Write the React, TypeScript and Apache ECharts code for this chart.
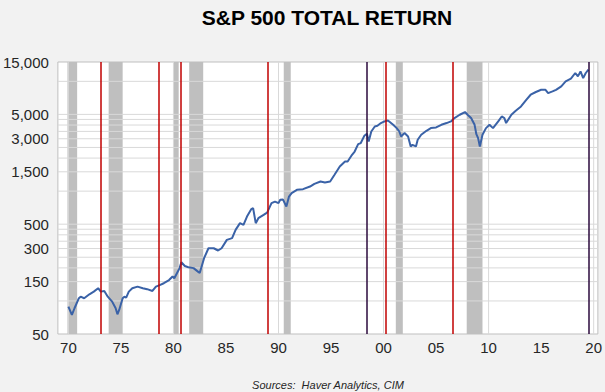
import React, { useEffect, useRef } from "react";
import * as echarts from "echarts";

const dates = [
  "1970-01","1970-05","1970-08","1971-01","1971-03","1971-07","1972-01","1972-06","1972-11","1973-02",
  "1973-06","1973-10","1974-03","1974-07","1974-09","1974-11","1975-03","1975-05","1975-07","1975-10",
  "1976-02","1976-08","1977-02","1977-07","1978-01","1978-05","1978-10","1979-02","1979-08","1979-12",
  "1980-02","1980-05","1980-08","1980-10","1981-02","1981-06","1981-12","1982-05","1982-07","1982-12",
  "1983-05","1983-11","1984-04","1984-08","1985-02","1985-08","1985-12","1986-05","1986-09","1987-01",
  "1987-06","1987-08","1987-11","1988-02","1988-08","1988-12","1989-05","1989-09","1990-01","1990-03",
  "1990-06","1990-10","1991-01","1991-04","1991-10","1992-05","1993-01","1993-06","1994-01","1994-06",
  "1994-12","1995-05","1995-11","1996-05","1996-08","1997-01","1997-04","1997-08","1997-11","1998-03",
  "1998-06","1998-08","1998-11","1999-03","1999-06","1999-10","2000-02","2000-06","2000-12","2001-04",
  "2001-07","2001-09","2002-01","2002-05","2002-08","2002-10","2003-02","2003-04","2003-08","2004-02",
  "2004-07","2005-01","2005-07","2006-01","2006-06","2006-10","2007-04","2007-10","2008-01","2008-05",
  "2008-09","2008-11","2009-01","2009-03","2009-06","2009-10","2010-02","2010-06","2010-12","2011-04",
  "2011-07","2011-09","2012-03","2012-08","2013-02","2013-08","2014-01","2014-07","2015-01","2015-06",
  "2015-09","2016-02","2016-06","2016-12","2017-05","2017-11","2018-04","2018-07","2018-10","2019-01",
  "2019-04","2019-07"
];

const values = [
  88.7, 74.5, 85.8, 105.9, 109.4, 105.9, 115, 121.6, 130.6, 121.6,
  123.3, 109.4, 98.6, 85.8, 75.6, 82.8, 105.9, 109.4, 107, 121.6,
  130.6, 135, 130.6, 128, 123.3, 135, 140, 145, 155, 167,
  161, 179, 199, 225, 208, 203, 199, 185, 180, 245,
  302, 302, 288, 302, 360, 373, 444, 511, 493, 587,
  686, 700, 511, 567, 608, 638, 778, 804, 778, 834,
  841, 724, 893, 959, 1028, 1042, 1101, 1166, 1224, 1197,
  1224, 1409, 1675, 1862, 1862, 2143, 2296, 2679, 2741, 3190,
  3327, 2831, 3492, 3880, 3937, 4168, 4315, 4406, 4018, 3750,
  3492, 3147, 3381, 3147, 2553, 2642, 2553, 2938, 3261, 3546,
  3750, 3800, 4018, 4168, 4315, 4630, 4963, 5250, 4963, 4630,
  4018, 3300, 3041, 2553, 3261, 3750, 4018, 3750, 4315, 4786,
  4630, 4168, 4963, 5396, 5902, 6792, 7551, 7998, 8375, 8375,
  7816, 8091, 8375, 8995, 9977, 10570, 11910, 11090, 12300, 10720,
  11910, 12760
];

const recessions: [string, string][] = [
  ["1969-12", "1970-11"],
  ["1973-11", "1975-03"],
  ["1980-01", "1980-07"],
  ["1981-07", "1982-11"],
  ["1990-07", "1991-03"],
  ["2001-03", "2001-11"],
  ["2007-12", "2009-06"],
];

const redLines = ["1973-02", "1978-08", "1980-09", "1989-01", "2000-04", "2006-08"];
const darkLines = ["1998-06", "2019-07"];

const yLabelValues = [50, 150, 300, 500, 1500, 3000, 5000, 15000];
const yGridValues = [
  100, 150, 200, 250, 300, 350, 400, 450, 500,
  1000, 1500, 2000, 2500, 3000, 3500, 4000, 4500, 5000,
  10000,
];
const xLabelYears = [1970, 1975, 1980, 1985, 1990, 1995, 2000, 2005, 2010, 2015, 2020];
const xGridYears = [1970, 1980, 1990, 2000, 2010, 2020];

const X_MIN = 1969.0;
const X_MAX = 2020.4;
const Y_MIN = 50;
const Y_MAX = 15000;

const FONT = '"Liberation Sans", Arial, sans-serif';

// "YYYY-MM" -> fractional year
function ym(s: string): number {
  const [y, m] = s.split("-").map(Number);
  return y + (m - 1) / 12;
}

export default function App() {
  const ref = useRef<HTMLDivElement>(null);

  useEffect(() => {
    if (!ref.current) return;
    const chart = echarts.init(ref.current, undefined, { renderer: "svg" });
    const lineData = dates.map((d, i) => [ym(d), values[i]]);

    const gridStyle = {
      type: "line",
      z: 2,
      silent: true,
      showSymbol: false,
      symbol: "none",
      lineStyle: { color: "#d9d9d9", width: 1 },
    };
    const gridSeries = [
      ...yGridValues.map((v) => ({
        ...gridStyle,
        data: [
          [X_MIN, v],
          [X_MAX, v],
        ],
      })),
      ...xGridYears.map((y) => ({
        ...gridStyle,
        data: [
          [y, Y_MIN],
          [y, Y_MAX],
        ],
      })),
    ];

    chart.setOption({
      animation: false,
      backgroundColor: "#f2f2f2",
      grid: {
        left: 57,
        right: 7,
        top: 62,
        bottom: 58,
        show: true,
        backgroundColor: "#ffffff",
        borderColor: "#bfbfbf",
        borderWidth: 1,
      },
      graphic: [
        {
          type: "text",
          x: 327,
          y: 17,
          style: {
            text: "S&P 500 TOTAL RETURN",
            fill: "#000000",
            fontFamily: FONT,
            fontWeight: "bold",
            fontSize: 21,
            align: "center",
            verticalAlign: "middle",
          },
        },
        {
          type: "text",
          x: 328,
          y: 385,
          style: {
            text: "Sources:  Haver Analytics, CIM",
            fill: "#262626",
            fontFamily: FONT,
            fontStyle: "italic",
            fontSize: 11,
            align: "center",
            verticalAlign: "middle",
          },
        },
      ],
      xAxis: {
        type: "value",
        min: X_MIN,
        max: X_MAX,
        axisLine: { show: false },
        axisTick: { show: false },
        splitLine: { show: false },
        axisLabel: {
          customValues: xLabelYears,
          formatter: (v: number) => String(Math.round(v) % 100).padStart(2, "0"),
          fontFamily: FONT,
          fontSize: 15,
          color: "#262626",
          margin: 6,
          hideOverlap: false,
        },
      },
      yAxis: {
        type: "log",
        logBase: 10,
        min: Y_MIN,
        max: Y_MAX,
        axisLine: { show: false },
        axisTick: { show: false },
        splitLine: { show: false },
        axisLabel: {
          customValues: yLabelValues,
          formatter: (v: number) => Math.round(v).toLocaleString("en-US"),
          fontFamily: FONT,
          fontSize: 15,
          color: "#262626",
          margin: 9,
        },
      },
      series: [
        {
          type: "line",
          data: [],
          z: 1,
          silent: true,
          markArea: {
            silent: true,
            itemStyle: { color: "#bfbfbf" },
            data: recessions.map(([a, b]) => [{ xAxis: ym(a) }, { xAxis: ym(b) }]),
          },
        },
        ...gridSeries,
        {
          type: "line",
          data: [],
          z: 3,
          silent: true,
          markLine: {
            silent: true,
            symbol: ["none", "none"],
            label: { show: false },
            data: [
              ...redLines.map((d) => ({
                xAxis: ym(d),
                lineStyle: { color: "#c00000", width: 1.5, type: "solid" },
              })),
              ...darkLines.map((d) => ({
                xAxis: ym(d),
                lineStyle: { color: "#2b0a3d", width: 1.5, type: "solid" },
              })),
            ],
          },
        },
        {
          type: "line",
          data: lineData,
          z: 4,
          showSymbol: false,
          symbol: "none",
          lineStyle: { color: "#3a62a7", width: 2 },
        },
      ],
    });

    return () => chart.dispose();
  }, []);

  return (
    <div
      ref={ref}
      style={{ position: "absolute", left: 0, top: 0, width: 605, height: 392 }}
    />
  );
}
